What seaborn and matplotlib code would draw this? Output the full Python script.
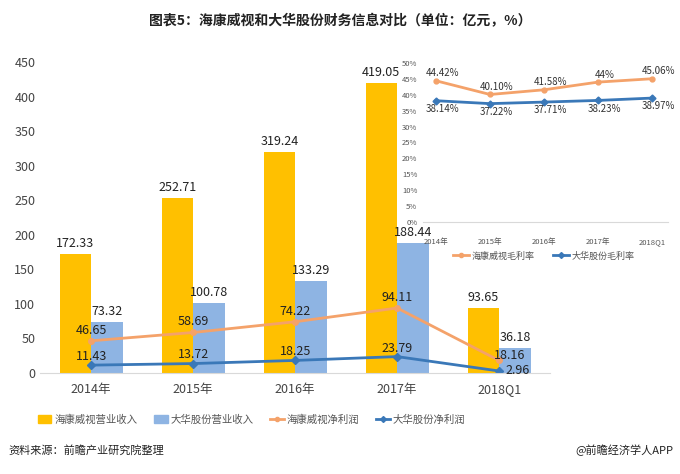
import matplotlib
matplotlib.use("Agg")
import matplotlib.pyplot as plt
import seaborn as sns
import pandas as pd
from matplotlib.lines import Line2D
from matplotlib.patches import Patch

plt.rcParams["font.family"] = "Noto Sans CJK SC"

categories = ["2014年", "2015年", "2016年", "2017年", "2018Q1"]
hk_rev = [172.33, 252.71, 319.24, 419.05, 93.65]
dh_rev = [73.32, 100.78, 133.29, 188.44, 36.18]
hk_np = [46.65, 58.69, 74.22, 94.11, 18.16]
dh_np = [11.43, 13.72, 18.25, 23.79, 2.96]
hk_gm = [44.42, 40.10, 41.58, 44.0, 45.06]
dh_gm = [38.14, 37.22, 37.71, 38.23, 38.97]
hk_gm_lbl = ["44.42%", "40.10%", "41.58%", "44%", "45.06%"]
dh_gm_lbl = ["38.14%", "37.22%", "37.71%", "38.23%", "38.97%"]

C_HK_BAR = "#FFC000"
C_DH_BAR = "#8EB4E3"
C_HK_LINE = "#F4A26A"
C_DH_LINE = "#3A78B8"

fig = plt.figure(figsize=(6.8, 4.74), dpi=100)
fig.patch.set_facecolor("white")
fig.text(0.5, 0.955, "图表5：海康威视和大华股份财务信息对比（单位：亿元，%）",
         ha="center", va="center", fontsize=10, fontweight="bold", color="#222222")

ax = fig.add_axes([0.059, 0.213, 0.75, 0.656])
df = pd.DataFrame({
    "cat": categories * 2,
    "val": hk_rev + dh_rev,
    "s": ["海康威视营业收入"] * 5 + ["大华股份营业收入"] * 5,
})
sns.barplot(data=df, x="cat", y="val", hue="s", palette=[C_HK_BAR, C_DH_BAR],
            width=0.62, ax=ax, legend=False, saturation=1)
for cont in ax.containers:
    ax.bar_label(cont, fmt="%.2f", fontsize=9, padding=3, color="#222222")
x = list(range(len(categories)))
ax.plot(x, hk_np, color=C_HK_LINE, lw=2, marker="o", ms=4)
ax.plot(x, dh_np, color=C_DH_LINE, lw=2, marker="D", ms=4)
for xi, v in zip(x, hk_np):
    if xi == 4:
        ax.text(xi + 0.1, v - 2, f"{v:.2f}", ha="center", va="bottom", fontsize=9, color="#222222")
    else:
        ax.text(xi, v + 6, f"{v:.2f}", ha="center", va="bottom", fontsize=9, color="#222222")
for xi, v in zip(x, dh_np):
    if xi == 4:
        ax.text(xi + 0.06, v + 1, f"{v:.2f}", ha="left", va="center", fontsize=9, color="#222222")
    else:
        ax.text(xi, v + 3, f"{v:.2f}", ha="center", va="bottom", fontsize=9, color="#222222")
ax.set_ylim(0, 450)
ax.set_yticks(range(0, 451, 50))
ax.set_xlim(-0.5, 4.5)
ax.set_xlabel("")
ax.set_ylabel("")
for s in ["top", "right", "left"]:
    ax.spines[s].set_visible(False)
ax.spines["bottom"].set_color("#D9D9D9")
ax.tick_params(axis="both", length=0, labelsize=9, colors="#444444")
ax.tick_params(axis="x", pad=7)

handles = [Patch(color=C_HK_BAR), Patch(color=C_DH_BAR),
           Line2D([], [], color=C_HK_LINE, lw=2, marker="o", ms=3),
           Line2D([], [], color=C_DH_LINE, lw=2, marker="D", ms=3)]
labels = ["海康威视营业收入", "大华股份营业收入", "海康威视净利润", "大华股份净利润"]
fig.legend(handles, labels, loc="center", bbox_to_anchor=(0.37, 0.115), ncol=4,
           frameon=False, fontsize=7.5, handlelength=1.3, columnspacing=1.6,
           handletextpad=0.3, labelcolor="#555555")

# inset
ia = fig.add_axes([0.622, 0.532, 0.361, 0.335])
ia.plot(x, hk_gm, color=C_HK_LINE, lw=2, marker="o", ms=3.5)
ia.plot(x, dh_gm, color=C_DH_LINE, lw=2, marker="D", ms=3.5)
for xi, v, l in zip(x, hk_gm, hk_gm_lbl):
    ia.text(xi + 0.12, v + 0.8, l, ha="center", va="bottom", fontsize=7, color="#333333")
for xi, v, l in zip(x, dh_gm, dh_gm_lbl):
    ia.text(xi + 0.12, v - 1.0, l, ha="center", va="top", fontsize=7, color="#333333")
ia.set_ylim(0, 50)
ia.set_yticks(range(0, 51, 5))
ia.set_yticklabels([f"{t}%" for t in range(0, 51, 5)])
ia.set_xlim(-0.24, 4.3)
ia.set_xticks(x)
ia.set_xticklabels(categories)
for s in ["top", "right", "left"]:
    ia.spines[s].set_visible(False)
ia.spines["bottom"].set_color("#D9D9D9")
ia.tick_params(axis="both", length=0, labelsize=5.5, colors="#555555")
ia.tick_params(axis="x", pad=12)
ia.tick_params(axis="y", pad=4)
ih = [Line2D([], [], color=C_HK_LINE, lw=2, marker="o", ms=3),
      Line2D([], [], color=C_DH_LINE, lw=2, marker="D", ms=3)]
fig.legend(ih, ["海康威视毛利率", "大华股份毛利率"], loc="center",
           bbox_to_anchor=(0.80, 0.46), ncol=2, frameon=False, fontsize=6.5,
           handlelength=1.8, handletextpad=0.3, labelcolor="#555555")

fig.text(0.012, 0.05, "资料来源：前瞻产业研究院整理", fontsize=8, style="italic",
         va="center", color="#222222")
fig.text(0.99, 0.05, "@前瞻经济学人APP", fontsize=8, ha="right", va="center",
         color="#222222")
fig.savefig("out.png", dpi=100, facecolor="white")
